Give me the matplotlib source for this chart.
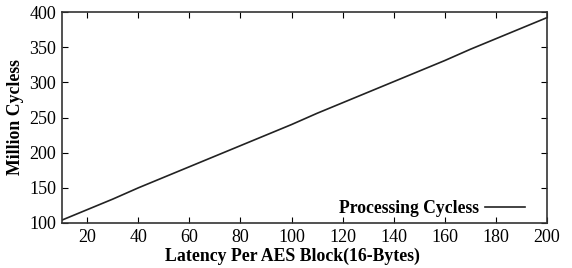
import numpy as np
import matplotlib
matplotlib.use('Agg')
import matplotlib.pyplot as plt

plt.rcParams['font.family'] = ['Liberation Serif', 'DejaVu Serif']

latency = [10, 20, 30, 40, 50, 60, 70, 80, 90, 100, 110, 120, 130, 140, 150, 160, 170, 180, 190, 200]
cycles = [104, 119, 134, 150, 165, 180, 195, 210, 225, 240, 256, 271, 286, 301, 316, 331, 347, 362, 377, 392]

fig = plt.figure(figsize=(5.72, 2.68), dpi=100)
ax = fig.add_axes([0.108, 0.168, 0.848, 0.787])

ax.plot(latency, cycles, c='#222222', lw=1.2, label='Processing Cycless')

ax.set_xlim(10, 200)
ax.set_ylim(100, 400)
ax.set_xticks(range(20, 201, 20))
ax.set_yticks(range(100, 401, 50))
ax.tick_params(direction='in', top=True, right=True, length=4, labelsize=13, pad=4)
for s in ax.spines.values():
    s.set_linewidth(1.2)
    s.set_color('#333333')

ax.set_xlabel('Latency Per AES Block(16-Bytes)', fontsize=12.8, fontweight='bold', labelpad=1)
ax.xaxis.set_label_coords(0.475, -0.115)
ax.set_ylabel('Million Cycless', fontsize=12.8, fontweight='bold', labelpad=4)

leg = ax.legend(loc='lower right', bbox_to_anchor=(0.963, 0.01), frameon=False,
                markerfirst=False, fontsize=12.7, handlelength=2.3, handletextpad=0.3,
                borderaxespad=0.0, borderpad=0.2)
for t in leg.get_texts():
    t.set_fontweight('bold')

fig.savefig('out.png', dpi=100)
